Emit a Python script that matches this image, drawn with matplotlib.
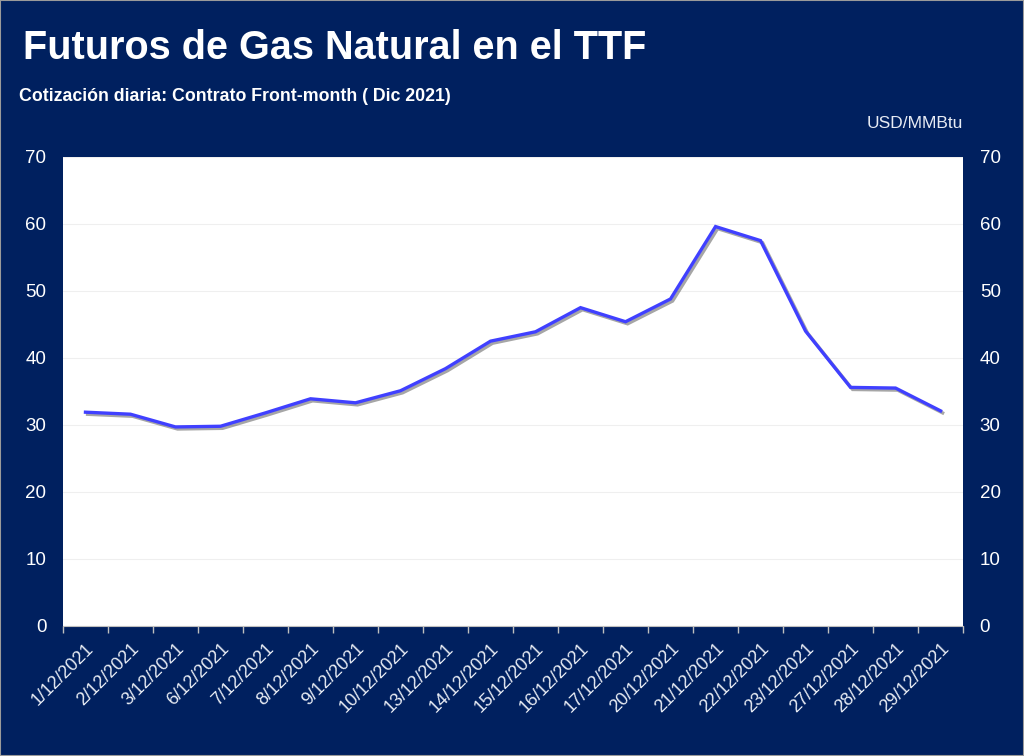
import matplotlib
matplotlib.use("Agg")
import matplotlib.pyplot as plt
import matplotlib.patheffects as pe
import numpy as np

dates = ["1/12/2021", "2/12/2021", "3/12/2021", "6/12/2021", "7/12/2021",
         "8/12/2021", "9/12/2021", "10/12/2021", "13/12/2021", "14/12/2021",
         "15/12/2021", "16/12/2021", "17/12/2021", "20/12/2021", "21/12/2021",
         "22/12/2021", "23/12/2021", "27/12/2021", "28/12/2021", "29/12/2021"]
price = [31.9, 31.6, 29.7, 29.8, 31.8, 33.9, 33.3, 35.1, 38.4, 42.5,
         43.9, 47.5, 45.4, 48.8, 59.6, 57.5, 44.0, 35.6, 35.5, 32.1]

NAVY = "#00205f"
plt.rcParams["font.family"] = ["Liberation Sans", "DejaVu Sans"]

fig = plt.figure(figsize=(10.24, 7.56), dpi=100, facecolor=NAVY)
fig.patches.append(plt.Rectangle((0, 0), 1, 1, transform=fig.transFigure,
                                 fill=False, edgecolor="#9a9a9a", lw=1.5))
ax = fig.add_axes([0.0615, 0.172, 0.879, 0.6205])
ax.set_facecolor("white")

x = np.arange(len(dates))
ax.plot(x, price, color="#4040ff", lw=2.4, solid_joinstyle="miter",
        path_effects=[pe.SimpleLineShadow(offset=(1.5, -1.5), alpha=0.35),
                      pe.Normal()])

ax.set_xlim(-0.5, len(dates) - 0.5)
ax.set_ylim(0, 70)
ax.set_yticks(np.arange(0, 71, 10))
ax.yaxis.grid(True, color="#efefef", lw=0.8)
ax.set_axisbelow(True)

ax.set_xticks(x)
ax.set_xticklabels(dates, rotation=45, ha="right", rotation_mode="anchor",
                   color="#e8ecf4", fontsize=13)
ax.set_xticks(np.arange(-0.5, len(dates), 1), minor=True)
ax.tick_params(axis="x", which="major", length=0, pad=10)
ax.tick_params(axis="x", which="minor", length=5, color="#bfbfbf", width=1)
ax.tick_params(axis="y", length=0, labelcolor="white", labelsize=13.5, pad=12,
               labelleft=True, labelright=True)

for s in ["top", "left", "right"]:
    ax.spines[s].set_visible(False)
ax.spines["bottom"].set_color("#bfbfbf")

fig.text(0.022, 0.937, "Futuros de Gas Natural en el TTF", color="white",
         fontsize=28.5, fontweight="bold", va="center")
fig.text(0.019, 0.873, "Cotización diaria: Contrato Front-month ( Dic 2021)",
         color="white", fontsize=12.8, fontweight="bold", va="center")
fig.text(0.94, 0.837, "USD/MMBtu", color="#e8ecf4", fontsize=12.5,
         ha="right", va="center")

fig.savefig("out.png", dpi=100, facecolor=NAVY)
